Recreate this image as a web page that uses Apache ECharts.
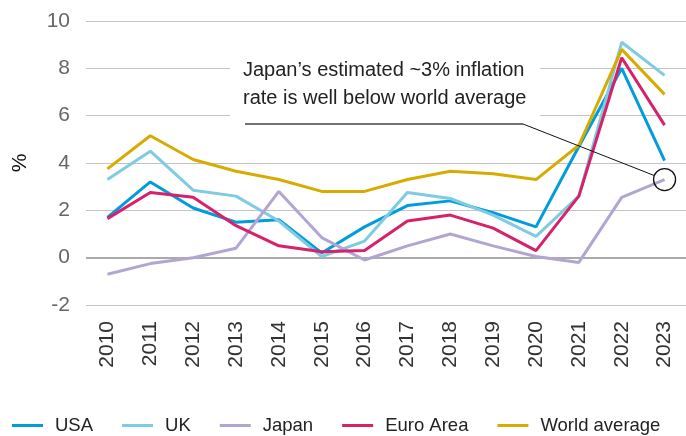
<!DOCTYPE html>
<html><head><meta charset="utf-8">
<script src="https://cdn.jsdelivr.net/npm/echarts@6/dist/echarts.min.js"></script>
<style>html,body{margin:0;padding:0;background:#fff}#c{width:686px;height:436px}</style>
</head><body><div id="c"></div>
<script>
const categories = ['2010','2011','2012','2013','2014','2015','2016','2017','2018','2019','2020','2021','2022','2023'];
const usa   = [1.7, 3.2, 2.1, 1.5, 1.6, 0.2, 1.3, 2.2, 2.4, 1.9, 1.3, 4.7, 8.0, 4.1];
const uk    = [3.3, 4.5, 2.85, 2.6, 1.55, 0.05, 0.7, 2.75, 2.5, 1.8, 0.9, 2.6, 9.1, 7.7];
const japan = [-0.7, -0.25, 0, 0.4, 2.8, 0.85, -0.1, 0.5, 1.0, 0.5, 0.05, -0.2, 2.55, 3.3];
const euro  = [1.65, 2.75, 2.55, 1.35, 0.5, 0.25, 0.3, 1.55, 1.8, 1.25, 0.3, 2.6, 8.45, 5.6];
const world = [3.75, 5.15, 4.15, 3.65, 3.3, 2.8, 2.8, 3.3, 3.65, 3.55, 3.3, 4.75, 8.8, 6.9];
const yTicks = {min: -2, max: 10, interval: 2};
const annotationText = 'Japan\u2019s estimated ~3% inflation\nrate is well below world average';

const SANS = "'Liberation Sans',Arial,sans-serif";
const colors = {USA:'#009ddc', UK:'#7fcbe1', Japan:'#b2a6d0', 'Euro Area':'#d5226b', 'World average':'#d8ab00'};

const chart = echarts.init(document.getElementById('c'), null, {renderer:'canvas'});
function mk(name, data){
  return {name, type:'line', data, symbol:'none', lineStyle:{width:3, color:colors[name]}, itemStyle:{color:colors[name]}, z:3};
}
const series = [mk('USA',usa), mk('UK',uk), mk('Japan',japan), mk('Euro Area',euro), mk('World average',world)];
series[0].markLine = {silent:true, symbol:'none', label:{show:false}, lineStyle:{color:'#aaa', width:2, type:'solid'}, data:[{yAxis:0}], z:1};

chart.setOption({
  animation:false,
  grid:{left:86, right:0, top:21, bottom:131},
  xAxis:{type:'category', data:categories, boundaryGap:true,
    axisLine:{show:false}, axisTick:{show:false},
    axisLabel:{rotate:90, margin:16, color:'#333', fontFamily:SANS, fontSize:21, interval:0}},
  yAxis:{type:'value', min:yTicks.min, max:yTicks.max, interval:yTicks.interval,
    name:'%', nameLocation:'middle', nameRotate:90, nameGap:55,
    nameTextStyle:{color:'#111', fontFamily:SANS, fontSize:21},
    axisLine:{show:false}, axisTick:{show:false},
    axisLabel:{margin:16, color:'#666', fontFamily:SANS, fontSize:21},
    splitLine:{lineStyle:{color:'#c4c4c4', width:1}}},
  legend:{left:7, top:411, icon:'rect', itemWidth:31, itemHeight:3, itemGap:29,
    textStyle:{color:'#222', fontFamily:SANS, fontSize:18.5, padding:[0,0,0,7]},
    data:['USA','UK','Japan','Euro Area','World average']},
  series
});

// annotation anchored to Japan 2023 data point
const c = chart.convertToPixel({seriesIndex:2}, [categories[13], japan[13]]);
const r = 11;
const elbow = [523, 124];
const dx = elbow[0]-c[0], dy = elbow[1]-c[1], d = Math.hypot(dx,dy);
const edge = [c[0]+dx/d*r, c[1]+dy/d*r];
chart.setOption({graphic:[
  {type:'rect', shape:{x:230, y:50, width:310, height:70}, style:{fill:'#fff'}, z:2},
  {type:'text', x:243, y:56, style:{text:annotationText, fill:'#222', font:"20px "+SANS, lineHeight:28}, z:5},
  {type:'polyline', shape:{points:[[245,124], elbow]}, style:{stroke:'#444', lineWidth:1.5, fill:null}, z:5},
  {type:'line', shape:{x1:elbow[0], y1:elbow[1], x2:edge[0], y2:edge[1]}, style:{stroke:'#111', lineWidth:1}, z:5},
  {type:'circle', shape:{cx:c[0], cy:c[1], r:r}, style:{stroke:'#111', lineWidth:1.3, fill:null}, z:6}
]});
</script></body></html>
